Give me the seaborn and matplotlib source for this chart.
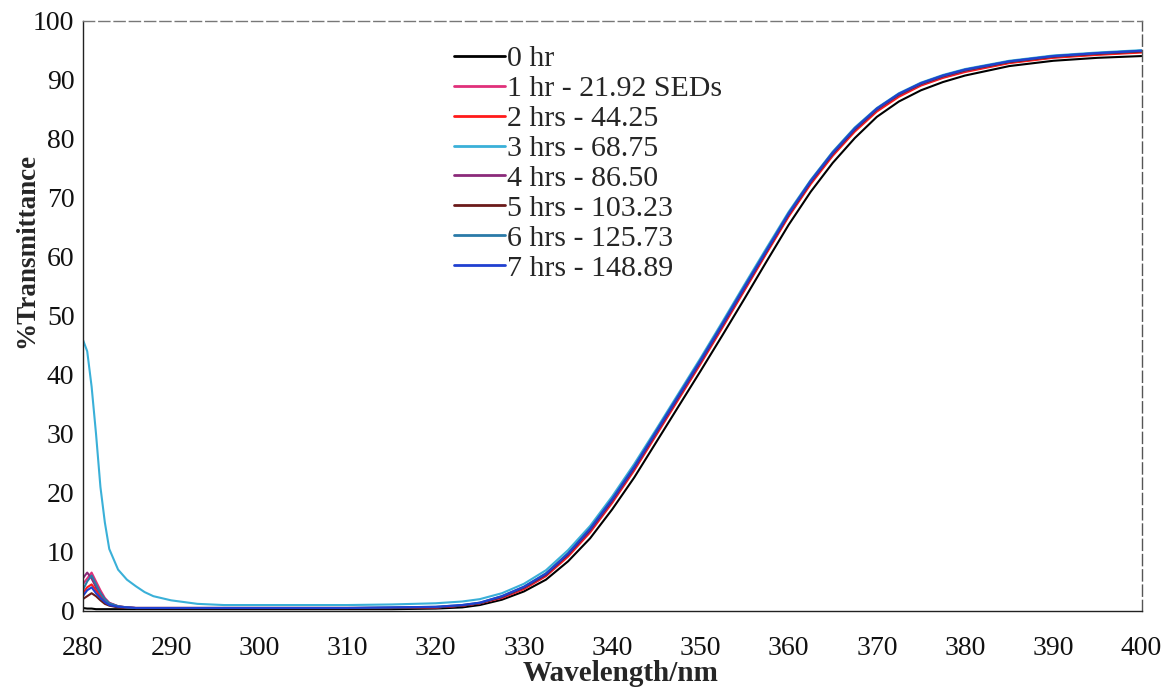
import matplotlib
matplotlib.use("Agg")
import matplotlib.pyplot as plt
import seaborn as sns
import pandas as pd

wavelength = [280, 280.5, 281, 281.5, 282, 282.5, 283, 284, 285, 286, 287, 288, 290, 293, 296, 300,
              305, 310, 315, 320, 323, 325, 327.5, 330, 332.5, 335, 337.5, 340, 342.5, 345, 347.5,
              350, 352.5, 355, 357.5, 360, 362.5, 365, 367.5, 370, 372.5, 375, 377.5, 380, 385, 390, 395, 400]

hr0 = [0.5, 0.4, 0.4, 0.3, 0.3, 0.3, 0.3, 0.3, 0.3, 0.3, 0.3, 0.3, 0.3, 0.3, 0.3, 0.3,
       0.3, 0.3, 0.3, 0.4, 0.6, 1.0, 1.9, 3.3, 5.3, 8.4, 12.3, 17.2, 22.6, 28.6, 34.6,
       40.6, 46.7, 52.9, 59.2, 65.4, 71.0, 75.9, 80.1, 83.7, 86.3, 88.2, 89.6, 90.7, 92.3, 93.2, 93.7, 94.0]
hr1 = [4.5, 5.5, 6.5, 5.0, 3.5, 2.2, 1.4, 0.8, 0.6, 0.5, 0.5, 0.5, 0.5, 0.5, 0.5, 0.5,
       0.5, 0.5, 0.5, 0.6, 0.9, 1.3, 2.3, 3.8, 6.0, 9.4, 13.5, 18.5, 24.0, 30.0, 36.0,
       42.0, 48.2, 54.5, 60.8, 67.0, 72.5, 77.3, 81.4, 84.8, 87.3, 89.1, 90.4, 91.4, 92.9, 93.8, 94.3, 94.7]
hr2 = [3.0, 4.0, 4.5, 3.5, 2.5, 1.6, 1.0, 0.7, 0.6, 0.5, 0.5, 0.5, 0.5, 0.5, 0.5, 0.5,
       0.5, 0.5, 0.5, 0.6, 0.9, 1.3, 2.2, 3.7, 5.9, 9.2, 13.3, 18.3, 23.8, 29.8, 35.8,
       41.8, 48.0, 54.3, 60.6, 66.8, 72.3, 77.1, 81.2, 84.6, 87.1, 89.0, 90.3, 91.3, 92.8, 93.7, 94.2, 94.6]
hr3 = [46.0, 44.0, 38.0, 30.0, 21.0, 15.0, 10.5, 7.0, 5.3, 4.2, 3.2, 2.5, 1.8, 1.2, 1.0, 1.0,
       1.0, 1.0, 1.1, 1.3, 1.6, 2.0, 3.0, 4.6, 6.9, 10.3, 14.4, 19.4, 24.9, 30.8, 36.8,
       42.8, 49.0, 55.3, 61.5, 67.6, 73.0, 77.8, 81.9, 85.2, 87.7, 89.5, 90.8, 91.8, 93.2, 94.1, 94.6, 95.0]
hr4 = [5.5, 6.5, 5.5, 4.0, 3.0, 2.0, 1.3, 0.8, 0.6, 0.5, 0.5, 0.5, 0.5, 0.5, 0.5, 0.5,
       0.5, 0.5, 0.5, 0.6, 0.9, 1.3, 2.3, 3.9, 6.1, 9.5, 13.6, 18.6, 24.1, 30.1, 36.1,
       42.1, 48.3, 54.6, 60.9, 67.1, 72.6, 77.4, 81.5, 84.9, 87.4, 89.2, 90.5, 91.5, 93.0, 93.9, 94.4, 94.8]
hr5 = [2.0, 2.5, 3.0, 2.5, 1.8, 1.2, 0.9, 0.6, 0.5, 0.5, 0.5, 0.5, 0.5, 0.5, 0.5, 0.5,
       0.5, 0.5, 0.5, 0.6, 0.9, 1.3, 2.4, 4.0, 6.2, 9.6, 13.8, 18.8, 24.3, 30.3, 36.3,
       42.3, 48.5, 54.8, 61.0, 67.2, 72.7, 77.5, 81.6, 85.0, 87.5, 89.3, 90.6, 91.6, 93.0, 93.9, 94.4, 94.8]
hr6 = [3.5, 5.0, 6.0, 4.5, 3.0, 2.0, 1.3, 0.8, 0.6, 0.5, 0.5, 0.5, 0.5, 0.5, 0.5, 0.5,
       0.5, 0.5, 0.6, 0.7, 1.0, 1.4, 2.5, 4.1, 6.4, 9.8, 14.0, 19.0, 24.5, 30.5, 36.5,
       42.5, 48.7, 55.0, 61.2, 67.4, 72.9, 77.7, 81.8, 85.1, 87.6, 89.4, 90.7, 91.7, 93.1, 94.0, 94.5, 94.9]
hr7 = [2.5, 3.5, 4.0, 3.0, 2.2, 1.5, 1.0, 0.7, 0.6, 0.5, 0.5, 0.5, 0.5, 0.5, 0.5, 0.5,
       0.5, 0.5, 0.6, 0.7, 1.0, 1.4, 2.5, 4.1, 6.3, 9.7, 13.9, 18.9, 24.4, 30.4, 36.4,
       42.4, 48.6, 54.9, 61.1, 67.3, 72.8, 77.6, 81.7, 85.1, 87.6, 89.4, 90.7, 91.7, 93.1, 94.0, 94.5, 94.9]

labels = ["0 hr", "1 hr - 21.92 SEDs", "2 hrs - 44.25", "3 hrs - 68.75", "4 hrs - 86.50",
          "5 hrs - 103.23", "6 hrs - 125.73", "7 hrs - 148.89"]
colors = ["#000000", "#e0307a", "#ff1a1a", "#3ab0d8", "#8b2a7a", "#6b1a1a", "#2a7aa8", "#2040d0"]
series = [hr0, hr1, hr2, hr3, hr4, hr5, hr6, hr7]

rows = []
for lab, vals in zip(labels, series):
    for w, v in zip(wavelength, vals):
        rows.append({"Wavelength": w, "T": v, "Series": lab})
df = pd.DataFrame(rows)

sns.set_theme(style="white")
plt.rcParams["font.family"] = ["Liberation Serif", "DejaVu Serif"]

fig = plt.figure(figsize=(11.66, 6.88), dpi=100)
ax = fig.add_axes([0.071, 0.112, 0.908, 0.858])

sns.lineplot(data=df, x="Wavelength", y="T", hue="Series", hue_order=labels,
             palette=dict(zip(labels, colors)), linewidth=1.5, ax=ax, sort=True)

ax.set_xlim(280, 400)
ax.set_ylim(0, 100)
ax.set_xticks(range(280, 401, 10))
ax.set_yticks(range(0, 101, 10))
ax.tick_params(axis="both", direction="out", length=4, width=1, labelsize=20, colors="black")
ax.tick_params(axis="y", pad=2)
ax.tick_params(axis="x", pad=14)
for tl in ax.get_xticklabels() + ax.get_yticklabels():
    tl.set_color("#111111")
for s in ax.spines.values():
    s.set_visible(True)
    s.set_color("#222222")
    s.set_linewidth(1.0)
ax.spines["top"].set_linestyle((0, (8, 3)))
ax.spines["right"].set_linestyle((0, (8, 3)))
ax.spines["top"].set_color("#777777")
ax.spines["right"].set_color("#555555")

ax.set_xlabel("Wavelength/nm", fontsize=21, fontweight="bold", va="top")
ax.xaxis.set_label_coords(0.508, -0.083)
ax.set_ylabel("%Transmittance", fontsize=19.5, fontweight="bold")
ax.yaxis.set_label_coords(-0.041, 0.61)

leg = ax.legend(loc="upper left", bbox_to_anchor=(0.351, 0.958), frameon=False, fontsize=21.5,
                handlelength=1.7, handletextpad=0.05, labelspacing=0.1, borderaxespad=0,
                borderpad=0)
for line in leg.get_lines():
    line.set_linewidth(2.0)

fig.savefig("out.png", dpi=100)
